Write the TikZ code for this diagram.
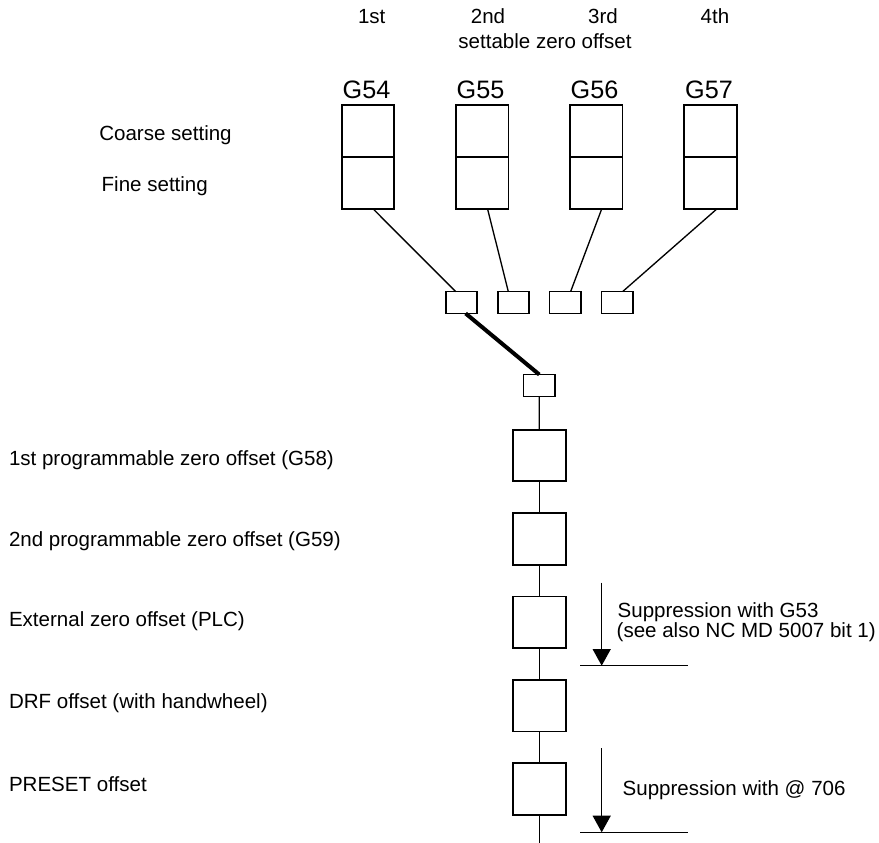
\documentclass[tikz,border=0pt]{standalone}
\usepackage{fontspec}
\setmainfont{Liberation Sans}
\usetikzlibrary{arrows.meta}
\begin{document}
\begin{tikzpicture}[x=0.75pt,y=-0.75pt,
  lbl/.style={inner sep=0pt,outer sep=0pt,font=\fontsize{15.4}{18}\selectfont},
  glbl/.style={inner sep=0pt,outer sep=0pt,anchor=base,font=\fontsize{18.9}{22}\selectfont},
  half/.style={draw,line width=1.35pt,minimum width=39.4pt,minimum height=39.2pt,inner sep=0pt,outer sep=0pt},
  small/.style={draw,line width=1.35pt,minimum width=23.6pt,minimum height=16.4pt,inner sep=0pt,outer sep=0pt},
  big/.style={draw,line width=1.35pt,minimum width=39.8pt,minimum height=38.8pt,inner sep=0pt,outer sep=0pt},
  conn/.style={line width=1pt},
  thick conn/.style={line width=3pt},
  supp/.style={line width=1.1pt,-{Triangle[width=13.5pt,length=12.5pt]}},
  bar/.style={line width=1.1pt}]
\useasboundingbox (0,0) rectangle (879,843);

% top labels
\node[lbl,anchor=base] (l1) at (371.7,23.3) {1st};
\node[lbl,anchor=base] (l2) at (488,23.3) {2nd};
\node[lbl,anchor=base] (l3) at (603,23.3) {3rd};
\node[lbl,anchor=base] (l4) at (715,23.3) {4th};
\node[lbl,anchor=base] (lset) at (545,48.3) {settable zero offset};

\node[glbl] (t54) at (366.5,98.3) {G54};
\node[glbl] (t55) at (480.5,98.3) {G55};
\node[glbl] (t56) at (594.5,98.3) {G56};
\node[glbl] (t57) at (709,98.3) {G57};

\node[lbl,anchor=base west] (coarse) at (99.3,140) {Coarse setting};
\node[lbl,anchor=base west] (fine) at (101.7,191.7) {Fine setting};

% settable zero offset boxes
\node[half] (c54) at (368,130.8) {};
\node[half] (f54) at (368,183) {};
\node[half] (c55) at (482.3,130.8) {};
\node[half] (f55) at (482.3,183) {};
\node[half] (c56) at (596.3,130.8) {};
\node[half] (f56) at (596.3,183) {};
\node[half] (c57) at (710.5,130.8) {};
\node[half] (f57) at (710.5,183) {};

% selector boxes
\node[small] (s1) at (461.5,302.5) {};
\node[small] (s2) at (513.5,302.5) {};
\node[small] (s3) at (565.3,302.5) {};
\node[small] (s4) at (617.2,302.5) {};
\node[small] (s5) at (539.3,385.5) {};

\draw[conn] ([xshift=4pt]f54.south) -- ([xshift=-4.35pt]s1.north);
\draw[conn] ([xshift=4pt]f55.south) -- ([xshift=-3.9pt]s2.north);
\draw[conn] ([xshift=4pt]f56.south) -- ([xshift=4pt]s3.north);
\draw[conn] ([xshift=4.6pt]f57.south) -- ([xshift=4.1pt]s4.north);
\draw[thick conn] ([xshift=3.1pt]s1.south) -- (s5.north);

% chain of offsets
\node[big] (b1) at (539.2,455.5) {};
\node[big] (b2) at (539.2,539) {};
\node[big] (b3) at (539.2,622.3) {};
\node[big] (b4) at (539.2,705.7) {};
\node[big] (b5) at (539.2,789) {};
\coordinate (bend) at (539.2,843);

\draw[conn] (s5.south) -- (b1.north);
\draw[conn] (b1.south) -- (b2.north);
\draw[conn] (b2.south) -- (b3.north);
\draw[conn] (b3.south) -- (b4.north);
\draw[conn] (b4.south) -- (b5.north);
\draw[conn] (b5.south) -- (bend);

% left labels
\node[lbl,anchor=base west] (p1) at (9,465) {1st programmable zero offset (G58)};
\node[lbl,anchor=base west] (p2) at (9,546.7) {2nd programmable zero offset (G59)};
\node[lbl,anchor=base west] (p3) at (9,626.7) {External zero offset (PLC)};
\node[lbl,anchor=base west] (p4) at (9,708.3) {DRF offset (with handwheel)};
\node[lbl,anchor=base west] (p5) at (9,791.7) {PRESET offset};

% suppression arrows
\coordinate (a1s) at (601.7,582.7);
\coordinate (a1e) at (601.7,665.7);
\coordinate (h1a) at (580,665.7);
\coordinate (h1b) at (688.3,665.7);
\draw[supp] (a1s) -- (a1e);
\draw[bar] (h1a) -- (h1b);
\node[lbl,anchor=base west] (sup1) at (617.7,617) {Suppression with G53};
\node[lbl,anchor=base west] (sup1b) at (616.7,637.5) {(see also NC MD 5007 bit 1)};

\coordinate (a2s) at (601.7,748.3);
\coordinate (a2e) at (601.7,832.3);
\coordinate (h2a) at (580,832.3);
\coordinate (h2b) at (688.3,832.3);
\draw[supp] (a2s) -- (a2e);
\draw[bar] (h2a) -- (h2b);
\node[lbl,anchor=base west] (sup2) at (622.7,795) {Suppression with @ 706};
\end{tikzpicture}
\end{document}
